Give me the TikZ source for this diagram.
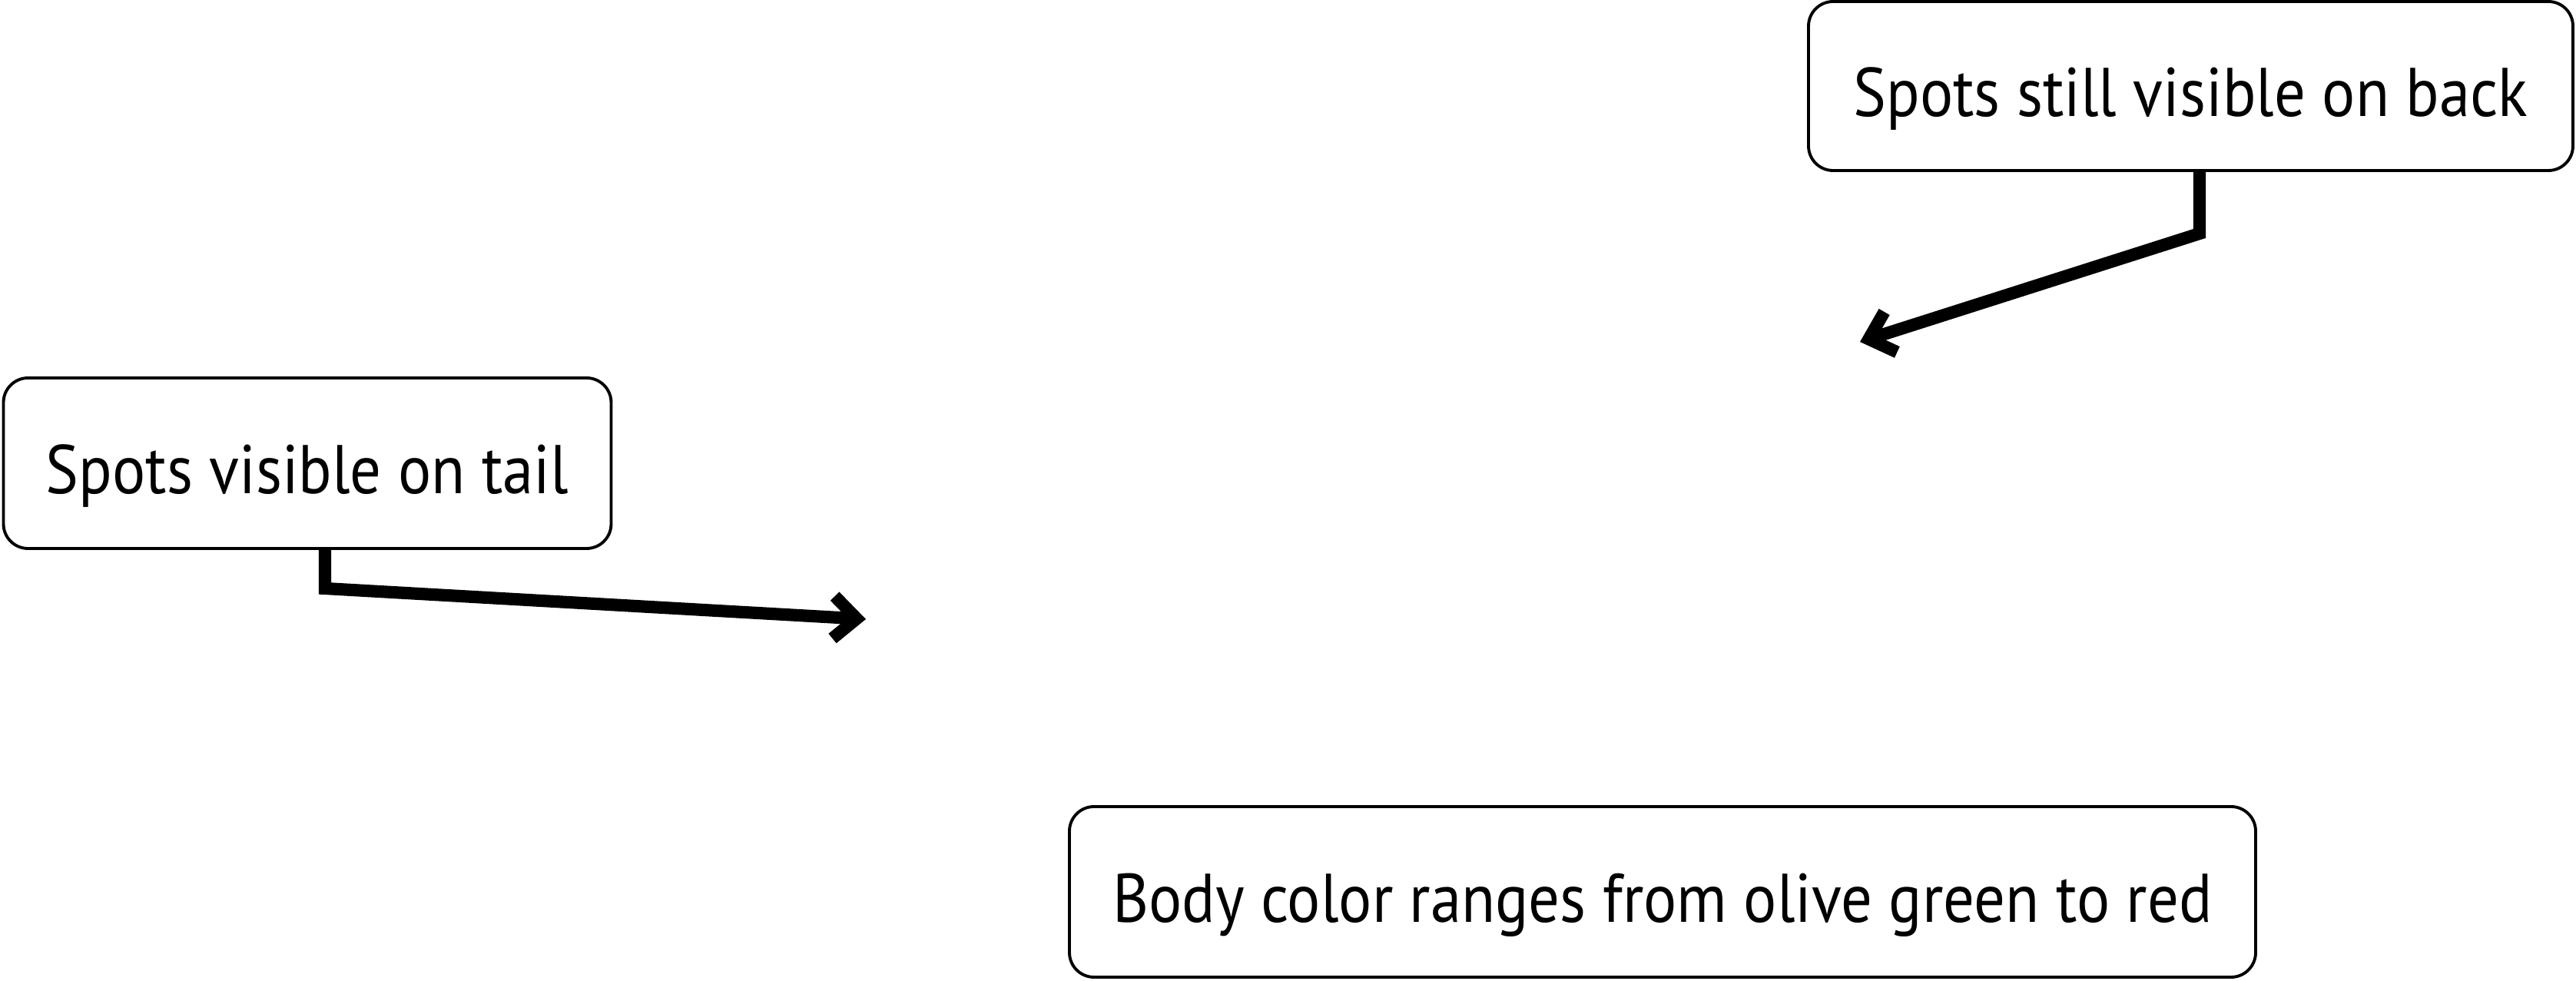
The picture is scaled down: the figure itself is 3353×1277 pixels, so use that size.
\documentclass[tikz,border=0pt]{standalone}
\usepackage{fontspec}
\setmainfont{PT Sans}[FakeStretch=0.9]
\usetikzlibrary{arrows.meta}
\newcommand{\lowtext}[1]{\raisebox{-0.17cm}[\height][\depth]{#1}}
\begin{document}
\begin{tikzpicture}[x=0.01cm,y=-0.01cm,
  callout/.style={draw=black,line width=1.1pt,rounded corners=0.32cm,inner sep=0pt,font=\fontsize{25.5}{30}\selectfont},
  pointer/.style={line width=4.6pt,-{Straight Barb[length=0.3cm,width=0.55cm]}}]
\useasboundingbox (0,0) rectangle (3353,1277);
\node[callout,minimum width=0.01cm*791,minimum height=0.01cm*222] (tail) at (400,603) {\lowtext{Spots visible on tail}};
\node[callout,minimum width=0.01cm*995,minimum height=0.01cm*220] (back) at (2851.5,112) {\lowtext{Spots still visible on back}};
\node[callout,minimum width=0.01cm*1544,minimum height=0.01cm*222] (body) at (2164,1161) {\lowtext{Body color ranges from olive green to red}};
\coordinate (c1) at (423,766);
\coordinate (t1) at (1127,806);
\coordinate (c2) at (2863,304);
\coordinate (t2) at (2421,445);
\draw[pointer] (tail.south -| c1) -- (c1) -- (t1);
\draw[pointer] (back.south -| c2) -- (c2) -- (t2);
\end{tikzpicture}
\end{document}
